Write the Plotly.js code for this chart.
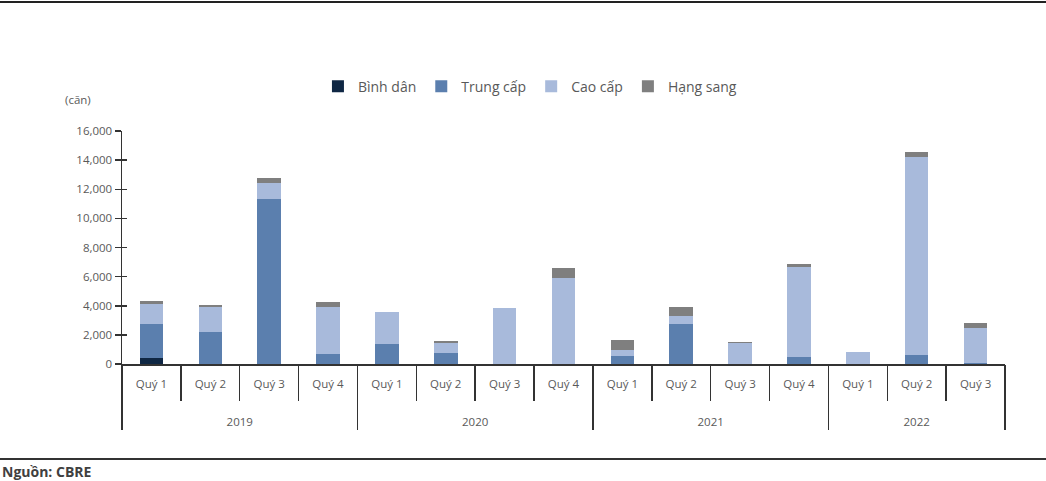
<!DOCTYPE html>
<html>
<head>
<meta charset="utf-8">
<script src="https://cdn.plot.ly/plotly-3.0.1.min.js"></script>
<style>
  html, body { margin: 0; padding: 0; background: #fff; }
  #chart { width: 1046px; height: 481px; }
</style>
</head>
<body>
<div id="chart"></div>
<script>
const years = ['2019','2019','2019','2019','2020','2020','2020','2020','2021','2021','2021','2021','2022','2022','2022'];
const quarters = ['Quý 1','Quý 2','Quý 3','Quý 4','Quý 1','Quý 2','Quý 3','Quý 4','Quý 1','Quý 2','Quý 3','Quý 4','Quý 1','Quý 2','Quý 3'];
const binhDan  = [430, 0, 0, 0,   0, 0, 0, 0,   0, 0, 0, 0,   0, 0, 0];
const trungCap = [2320, 2220, 11300, 690,   1370, 780, 0, 0,   550, 2750, 0, 460,   0, 620, 100];
const caoCap   = [1370, 1670, 1150, 3200,   2180, 660, 3870, 5890,   420, 570, 1450, 6180,   850, 13580, 2350];
const hangSang = [230, 160, 350, 350,   0, 140, 0, 680,   700, 620, 40, 230,   0, 340, 340];
const yTicks = [0, 2000, 4000, 6000, 8000, 10000, 12000, 14000, 16000];

const seriesNames = ['Bình dân', 'Trung cấp', 'Cao cấp', 'Hạng sang'];
const seriesColors = ['#0f2744', '#5b7fae', '#a8badb', '#7f7f7f'];
const seriesData = [binhDan, trungCap, caoCap, hangSang];

// quarter labels get empty extra lines so the year row sits lower
const quarterLabels = quarters.map(q => q + '<br>&nbsp;<br>&nbsp;');

const traces = seriesData.map((vals, i) => ({
  type: 'bar',
  name: seriesNames[i],
  x: [years, quarterLabels],
  y: vals,
  marker: { color: seriesColors[i], line: { width: 0 } },
  hoverinfo: 'y+name'
}));

// invisible helper trace that lets the overlay axes draw the long separators / crossing ticks
traces.push({
  type: 'bar', x: [years, quarterLabels], y: binhDan,
  xaxis: 'x2', yaxis: 'y2', opacity: 0, showlegend: false, hoverinfo: 'skip'
});

const font = { family: 'Open Sans, sans-serif', size: 11.5, color: '#595959' };

const layout = {
  width: 1046, height: 481,
  margin: { l: 122, r: 41, t: 131, b: 117 },
  paper_bgcolor: '#fff', plot_bgcolor: '#fff',
  barmode: 'stack',
  bargap: 0.6,
  font: font,
  showlegend: true,
  legend: {
    orientation: 'h', x: 0.462, xanchor: 'center', y: 1.19, yanchor: 'middle',
    font: { family: 'Open Sans, sans-serif', size: 14, color: '#595959' },
    traceorder: 'normal', itemwidth: 30
  },
  xaxis: {
    type: 'multicategory',
    showline: true, linecolor: '#333', linewidth: 1.5,
    ticks: '', ticklabelstandoff: 9,
    showgrid: false, zeroline: false,
    showdividers: true, dividercolor: '#333', dividerwidth: 1.5,
    tickfont: font
  },
  xaxis2: {
    type: 'multicategory',
    overlaying: 'x', anchor: 'y', side: 'bottom',
    showticklabels: false, showdividers: false,
    ticks: 'outside', ticklen: 36, tickwidth: 1.5, tickcolor: '#333',
    showgrid: false, zeroline: false, showline: false
  },
  yaxis: {
    range: [0, 16000], tickvals: yTicks, tickformat: ',',
    showline: true, linecolor: '#333', linewidth: 1.5,
    ticks: 'outside', ticklen: 6, tickwidth: 1.5, tickcolor: '#333',
    showgrid: false, zeroline: false, tickfont: font
  },
  yaxis2: {
    overlaying: 'y', anchor: 'x', side: 'left',
    range: [0, 16000], tickvals: yTicks,
    showticklabels: false, ticks: 'inside', ticklen: 5, tickwidth: 1.5, tickcolor: '#333',
    showgrid: false, zeroline: false, showline: false
  },
  annotations: [
    { text: '(căn)', xref: 'paper', yref: 'paper', x: -0.05, y: 1.135, xanchor: 'center', yanchor: 'middle', showarrow: false, font: font },
    { text: '<b>Nguồn: CBRE</b>', xref: 'paper', yref: 'paper', x: -122/883, y: -0.46, xanchor: 'left', yanchor: 'middle', showarrow: false,
      font: { family: 'Open Sans, sans-serif', size: 14, color: '#404040' } }
  ],
  shapes: [
    { type: 'line', xref: 'paper', yref: 'paper', x0: -122/883, x1: 1 + 41/883, y0: 1 + 129/233, y1: 1 + 129/233, line: { color: '#222', width: 2 } },
    { type: 'line', xref: 'paper', yref: 'paper', x0: -122/883, x1: 1 + 41/883, y0: -95/233, y1: -95/233, line: { color: '#333', width: 2 } }
  ]
};

Plotly.newPlot('chart', traces, layout, { displayModeBar: false, staticPlot: true });
</script>
</body>
</html>
